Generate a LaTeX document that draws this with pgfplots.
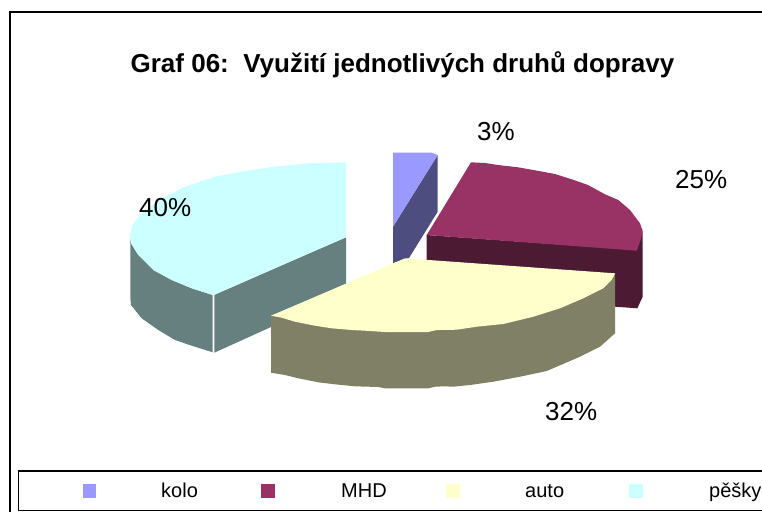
\documentclass[border=0pt]{standalone}
\usepackage{pgfplots}
\pgfplotsset{compat=1.18}
\usepackage{fontspec}
\setmainfont{Liberation Sans}
\definecolor{koloT}{HTML}{9999FF}\definecolor{koloS}{HTML}{4D4D80}
\definecolor{mhdT}{HTML}{993366}\definecolor{mhdS}{HTML}{4D1A33}
\definecolor{autoT}{HTML}{FFFFCC}\definecolor{autoS}{HTML}{808066}
\definecolor{peskyT}{HTML}{CCFFFF}\definecolor{peskyS}{HTML}{668080}
\begin{document}
\begin{tikzpicture}[x=1pt,y=1pt]
\fill[white] (0,0) rectangle (762,512);
\clip (0,0) rectangle (762,512);
\begin{axis}[at={(0,0)},anchor=south west,scale only axis,width=762pt,height=512pt,
  xmin=0,xmax=762,ymin=0,ymax=512,y dir=reverse,hide axis]
% frame
\addplot[black,line width=2pt] coordinates {(9.5,512) (9.5,11.5) (762,11.5)};
% kolo
\addplot[fill=koloS,draw=none] coordinates {(437.7,155) (437.7,211.7) (409,258) (393,263) (393,226.7)} -- cycle;
\addplot[fill=koloT,draw=none] coordinates {(393,152.7) (431.7,152.7) (437.7,155) (393,226.7)} -- cycle;
% pesky
\addplot[fill=peskyS,draw=none] coordinates {(130.3,238) (131,243.3) (138.3,255) (153.3,270) (171.7,280) (191.7,288.3) (212.7,295) (212.7,352.3) (191.7,345.7) (175,340) (158.3,330) (141.7,318.3) (131,305) (130.3,298.3)} -- cycle;
\addplot[fill=peskyS,draw=none] coordinates {(214.3,295) (346,237.3) (346,293) (214.3,352.7)} -- cycle;
\addplot[fill=peskyT,draw=none] coordinates {(346,162.3) (306.7,163.3) (270,167.3) (245,171) (215,176.7) (185,186.7) (161.7,198.3) (141.7,213.3) (132.3,225) (130,235) (131,243.3) (138.3,255) (153.3,270) (171.7,280) (191.7,288.3) (212.7,295) (346,237.3)} -- cycle;
% MHD
\addplot[fill=mhdS,draw=none] coordinates {(426.7,235) (636.7,250) (642.7,231) (642.7,296.7) (637.3,308.3) (615,306.7) (426.7,295)} -- cycle;
\addplot[fill=mhdT,draw=none] coordinates {(471,162.3) (485,163) (498,165) (518,167.3) (535,170.3) (555,174) (571.7,179.3) (588,185) (605,194.3) (618.3,200) (630,210) (640,223.3) (642.7,231) (640.7,240) (636.7,250.7) (426.7,235)} -- cycle;
% auto
\addplot[fill=autoS,draw=none] coordinates {(271,315.7) (615,273.3) (615,333.3) (600,346.7) (580,356.7) (546.7,371) (520,376.7) (493.3,381.7) (470,385) (453.3,386.7) (445,386.3) (435,386.7) (428.3,388.3) (385,388.3) (378.3,387) (355,386.3) (335,384.3) (318.3,382.3) (298.3,378.3) (285,375) (271,372.7)} -- cycle;
\addplot[fill=autoT,draw=none] coordinates {(405,258.3) (615,273.3) (611.7,280) (603.3,288.3) (583.3,298.3) (560,308.3) (533.3,316.7) (503.3,324) (476.7,326.7) (456.7,329.7) (440,330) (435,330.3) (428.3,332) (385,332) (365,330.7) (351.7,330) (331.7,328.3) (315,325.7) (295,321.7) (281.7,317.7) (271,315.7)} -- cycle;
% legend
\addplot[black,line width=1.5pt] coordinates {(763,471) (18.5,471) (18.5,510.5) (763,510.5)};
\addplot[fill=koloT,draw=none] coordinates {(82.5,484) (96,484) (96,498) (82.5,498)} -- cycle;
\addplot[fill=mhdT,draw=none] coordinates {(261,484) (275,484) (275,498) (261,498)} -- cycle;
\addplot[fill=autoT,draw=none] coordinates {(446,484) (460,484) (460,498) (446,498)} -- cycle;
\addplot[fill=peskyT,draw=none] coordinates {(629,484) (643,484) (643,498) (629,498)} -- cycle;
\node[anchor=base,font=\fontsize{26}{26}\selectfont\bfseries] at (axis cs:402.5,72) {Graf 06:\ \ Využití jednotlivých druhů dopravy};
\node[anchor=base west,inner sep=0,font=\fontsize{26}{26}\selectfont] at (axis cs:477,140) {3\%};
\node[anchor=base west,inner sep=0,font=\fontsize{26}{26}\selectfont] at (axis cs:675,188) {25\%};
\node[anchor=base west,inner sep=0,font=\fontsize{26}{26}\selectfont] at (axis cs:545,420) {32\%};
\node[anchor=base west,inner sep=0,font=\fontsize{26}{26}\selectfont] at (axis cs:139,216) {40\%};
\node[anchor=base west,inner sep=0,font=\fontsize{20}{20}\selectfont] at (axis cs:161,497) {kolo};
\node[anchor=base west,inner sep=0,font=\fontsize{20}{20}\selectfont] at (axis cs:341,497) {MHD};
\node[anchor=base west,inner sep=0,font=\fontsize{20}{20}\selectfont] at (axis cs:525,497) {auto};
\node[anchor=base west,inner sep=0,font=\fontsize{20}{20}\selectfont] at (axis cs:709,497) {pěšky};
\end{axis}
\end{tikzpicture}
\end{document}
